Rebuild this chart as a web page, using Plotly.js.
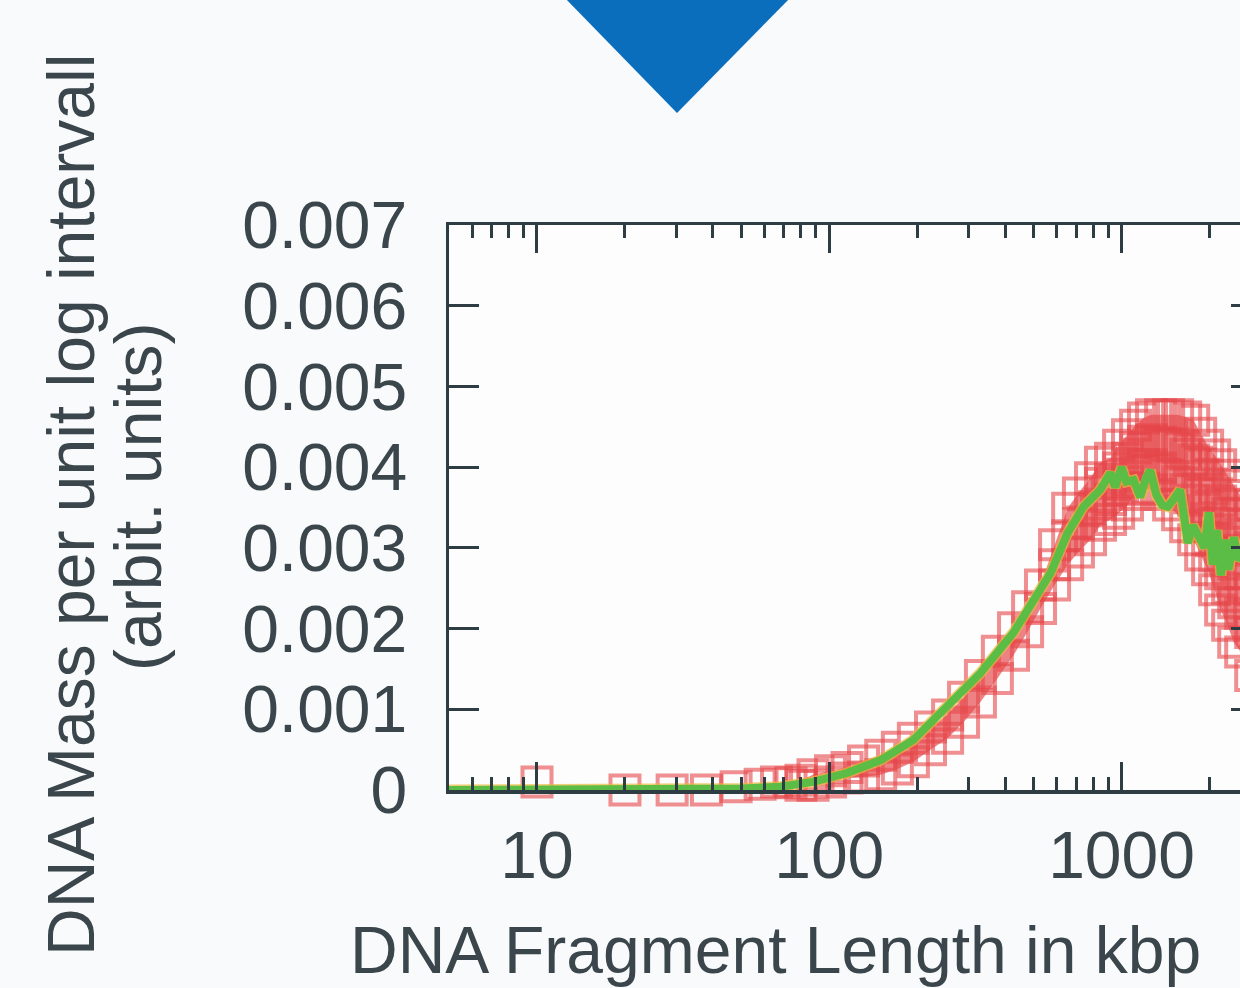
<!DOCTYPE html>
<html>
<head>
<meta charset="utf-8">
<script src="https://cdn.plot.ly/plotly-3.0.1.min.js"></script>
<style>
  html, body { margin: 0; padding: 0; background: #f9fafb; overflow: hidden; width: 1240px; height: 988px; }
  #plot { width: 1300px; height: 988px; }
</style>
</head>
<body>
<div id="plot"></div>
<script>
// ---- Data ----
// Individual measurements (red open squares): fragment length (kbp) per column, and the DNA mass values seen in that column
const redColX = [
  10, 20, 29, 38, 48, 58, 66, 74, 80,
  88, 101, 115, 131, 150, 171, 194, 222, 254, 288, 329, 376, 427, 477, 528,
  590, 654, 712, 783, 847, 917, 977, 1048, 1117, 1189, 1266, 1360, 1449, 1555, 1657, 1765,
  1865, 1970, 2082, 2183, 2307, 2419, 2556, 2766, 2990
];
const redColY = [
  [0.0001], [0.0], [0.0], [0.0], [0.00004], [0.00007], [0.0001], [0.00009], [0.00006, 0.00012],
  [0.00019, 0.00006], [0.00024, 0.0001], [0.00028, 0.00015], [0.00036, 0.00016], [0.00043, 0.00019],
  [0.00053, 0.00026], [0.00064, 0.00035], [0.00078, 0.0005], [0.00093, 0.00064], [0.00115, 0.00084],
  [0.00142, 0.00109], [0.00172, 0.00138], [0.00201, 0.00167], [0.00227, 0.00196], [0.00254, 0.00225],
  [0.00304, 0.00279, 0.00254], [0.00349, 0.00315, 0.00279], [0.00368, 0.0033, 0.00295], [0.00387, 0.00348, 0.0031],
  [0.00406, 0.0038, 0.00354, 0.00328], [0.00411, 0.00385, 0.0036, 0.00335], [0.00427, 0.00399, 0.00372, 0.00343],
  [0.0044, 0.00411, 0.00382, 0.00353], [0.00452, 0.00424, 0.00394, 0.00366], [0.00461, 0.00432, 0.00403, 0.00374],
  [0.00465, 0.00434, 0.00403, 0.00372], [0.00465, 0.00431, 0.00399, 0.00366], [0.00465, 0.00427, 0.0039, 0.00353],
  [0.00465, 0.00424, 0.00382, 0.00341], [0.00462, 0.00416, 0.00372, 0.00326], [0.00458, 0.00409, 0.00359, 0.0031],
  [0.00442, 0.00404, 0.00367, 0.00328, 0.00291], [0.00427, 0.00389, 0.00349, 0.00311, 0.00273],
  [0.00415, 0.00373, 0.00331, 0.0029, 0.00248], [0.00403, 0.00358, 0.00312, 0.00268, 0.00223],
  [0.0039, 0.00343, 0.00297, 0.0025, 0.00204], [0.00378, 0.0033, 0.0028, 0.00232, 0.00183],
  [0.00365, 0.00317, 0.00268, 0.00219, 0.00171], [0.00353, 0.003, 0.00248, 0.00195, 0.00142],
  [0.0034, 0.00285, 0.00229, 0.00173, 0.00118]
];
// Mean curve (green line)
const meanX = [
  5, 10, 20, 30, 40, 50, 68, 88, 115, 150, 194, 253, 329, 427, 528, 572, 653, 741, 845,
  917, 951, 1000, 1039, 1099, 1159, 1215, 1255, 1314, 1378, 1439, 1501, 1588, 1642, 1684,
  1754, 1831, 1923, 1990, 2050, 2121, 2188, 2256, 2325, 2420, 2514, 2710, 2980
];
const meanY = [
  0, 0, 0, 0, 0.00001, 0.00002, 0.00004, 0.0001, 0.00021, 0.00037, 0.00062, 0.00103, 0.00145, 0.00195, 0.00248, 0.00269, 0.00318, 0.00351, 0.00372,
  0.00393, 0.00375, 0.004, 0.00382, 0.00384, 0.00363, 0.00388, 0.00396, 0.00366, 0.00353, 0.00351, 0.00359, 0.00372, 0.00335, 0.00306,
  0.00328, 0.00316, 0.003, 0.00344, 0.00279, 0.00322, 0.00266, 0.0031, 0.00273, 0.00313, 0.00285, 0.00297, 0.00285
];
// Axis ticks
const xTickVals = [10, 100, 1000];
const xTickText = ['10', '100', '1000'];
const xMinorVals = [6, 7, 8, 9, 20, 30, 40, 50, 60, 70, 80, 90, 200, 300, 400, 500, 600, 700, 800, 900, 2000, 3000];
const yTickVals = [0, 0.001, 0.002, 0.003, 0.004, 0.005, 0.006, 0.007];
const yTickText = ['0', '0.001', '0.002', '0.003', '0.004', '0.005', '0.006', '0.007'];

// flatten the columns into point lists, and take the spread of each column for the dense band
const redX = [], redY = [];
redColX.forEach((xv, i) => redColY[i].forEach(yv => { redX.push(xv); redY.push(yv); }));
const bandIdx = redColX.map((v, i) => i).filter(i => redColY[i].length > 1);
const bandX = bandIdx.map(i => redColX[i]);
const bandHi = bandIdx.map(i => Math.max(...redColY[i]));
const bandLo = bandIdx.map(i => Math.min(...redColY[i]));

const axisColor = '#2e3c43';
const textColor = '#3a464b';
const font = 'Liberation Sans, Arial, sans-serif';

const traces = [
  {
    x: bandX, y: bandLo, type: 'scatter', mode: 'lines',
    line: { width: 0, color: 'rgba(0,0,0,0)' }, hoverinfo: 'skip', showlegend: false
  },
  {
    x: bandX, y: bandHi, type: 'scatter', mode: 'lines', fill: 'tonexty',
    fillcolor: 'rgba(230,82,84,0.72)',
    line: { width: 0, color: 'rgba(0,0,0,0)' }, hoverinfo: 'skip', showlegend: false
  },
  {
    x: redX, y: redY, type: 'scatter', mode: 'markers', cliponaxis: false,
    marker: { symbol: 'square-open', size: 29, color: 'rgba(230,70,74,0.6)', line: { width: 4 } },
    hoverinfo: 'x+y', showlegend: false
  },
  {
    x: meanX, y: meanY, type: 'scatter', mode: 'lines',
    line: { color: 'rgba(235,185,60,0.7)', width: 11 }, hoverinfo: 'skip', showlegend: false
  },
  {
    x: meanX, y: meanY, type: 'scatter', mode: 'lines',
    line: { color: '#5cbd46', width: 8 }, showlegend: false
  }
];

const layout = {
  width: 1300, height: 988, autosize: false,
  margin: { l: 449, r: 39, t: 225, b: 198, pad: 0 },
  paper_bgcolor: '#f9fafb', plot_bgcolor: '#fdfdfd',
  showlegend: false,
  xaxis: {
    type: 'log', range: [Math.log10(5), Math.log10(3000)],
    tickmode: 'array', tickvals: xTickVals, ticktext: xTickText,
    ticks: 'inside', ticklen: 28, tickwidth: 3, tickcolor: axisColor,
    minor: { tickmode: 'array', tickvals: xMinorVals, ticks: 'inside', ticklen: 13, tickwidth: 3, tickcolor: axisColor, showgrid: false },
    showline: true, linecolor: axisColor, linewidth: 3.5, mirror: 'ticks',
    showgrid: false, zeroline: false,
    tickfont: { family: font, size: 66, color: textColor },
    ticklabelstandoff: 5
  },
  yaxis: {
    range: [0, 0.007],
    tickmode: 'array', tickvals: yTickVals, ticktext: yTickText,
    ticks: 'inside', ticklen: 30, tickwidth: 3, tickcolor: axisColor,
    showline: true, linecolor: axisColor, linewidth: 3.5, mirror: 'ticks',
    showgrid: false, zeroline: false,
    tickfont: { family: font, size: 66, color: textColor },
    ticklabelstandoff: 25
  },
  annotations: [
    { text: 'DNA Mass per unit log intervall', xref: 'paper', yref: 'paper',
      x: (71 - 449) / 812, y: (790 - 505) / 565, xanchor: 'center', yanchor: 'middle',
      textangle: -90, showarrow: false, font: { family: font, size: 66, color: textColor } },
    { text: '(arbit. units)', xref: 'paper', yref: 'paper',
      x: (138 - 449) / 812, y: (790 - 497) / 565, xanchor: 'center', yanchor: 'middle',
      textangle: -90, showarrow: false, font: { family: font, size: 66, color: textColor } },
    { text: 'DNA Fragment Length in kbp', xref: 'paper', yref: 'paper',
      x: (775 - 449) / 812, y: (790 - 950) / 565, xanchor: 'center', yanchor: 'middle',
      showarrow: false, font: { family: font, size: 66, color: textColor } }
  ],
  shapes: [
    { type: 'path', xref: 'paper', yref: 'paper', layer: 'above',
      path: 'M ' + ((562 - 449) / 812) + ' ' + ((790 + 5) / 565) +
            ' L ' + ((793 - 449) / 812) + ' ' + ((790 + 5) / 565) +
            ' L ' + ((677 - 449) / 812) + ' ' + ((790 - 113) / 565) + ' Z',
      fillcolor: '#0a6ebd', line: { width: 0 } }
  ]
};

Plotly.newPlot('plot', traces, layout, { displayModeBar: false, staticPlot: true });
</script>
</body>
</html>
